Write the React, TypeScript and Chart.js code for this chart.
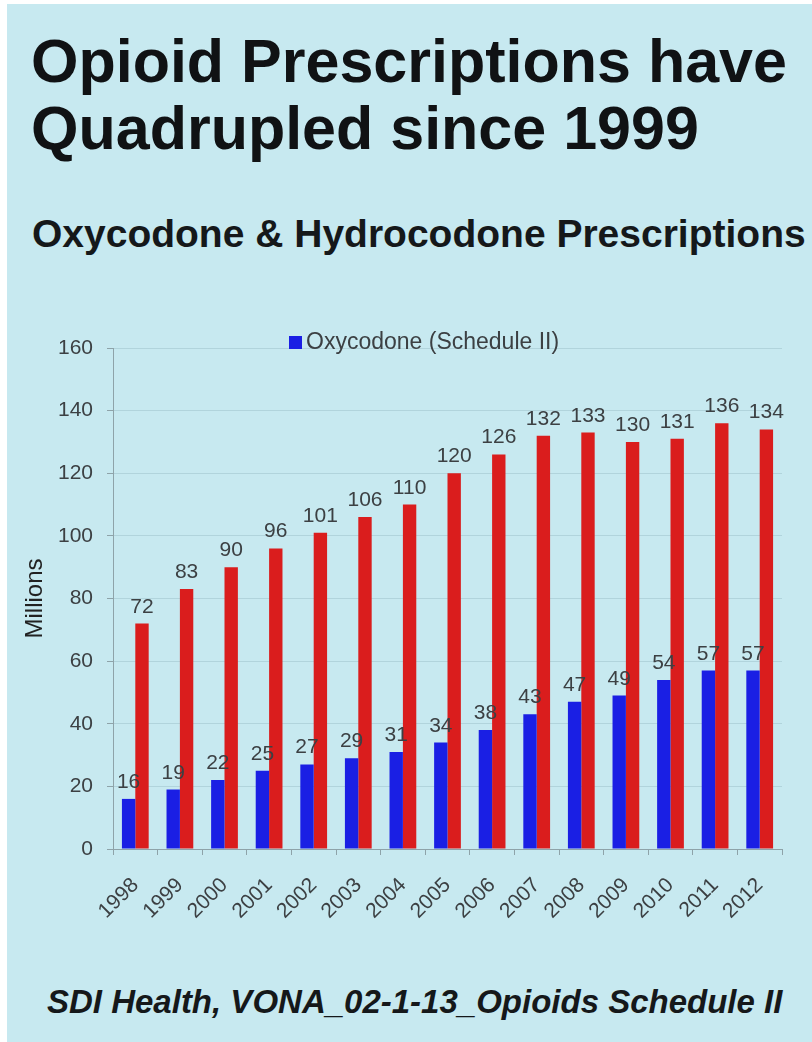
import React, { useEffect, useRef } from "react";
import { Chart, registerables } from "chart.js";

Chart.register(...registerables);

// Prescriptions per year, in millions
const years = [
  "1998", "1999", "2000", "2001", "2002", "2003", "2004", "2005",
  "2006", "2007", "2008", "2009", "2010", "2011", "2012",
];
const oxycodone = [16, 19, 22, 25, 27, 29, 31, 34, 38, 43, 47, 49, 54, 57, 57];
const hydrocodone = [72, 83, 90, 96, 101, 106, 110, 120, 126, 132, 133, 130, 131, 136, 134];

const seriesNames = ["Oxycodone (Schedule II)", "Hydrocodone (Schedule III)"];
const seriesColors = ["#1a1fe4", "#da1d1d"];

const yMin = 0;
const yMax = 160;
const yStep = 20;

const FONT = '"Liberation Sans", Arial, Helvetica, sans-serif';
const BG = "#c7e9f0";
const TEXT = "#3c4043";
const AXIS = "#8ea3a9";

// Numbers printed above every bar
const valueLabels = {
  id: "valueLabels",
  afterDatasetsDraw(chart: any) {
    const { ctx } = chart;
    ctx.save();
    ctx.font = `21px ${FONT}`;
    ctx.fillStyle = TEXT;
    ctx.textAlign = "center";
    ctx.textBaseline = "alphabetic";
    chart.data.datasets.forEach((ds: any, i: number) => {
      const meta = chart.getDatasetMeta(i);
      meta.data.forEach((bar: any, j: number) => {
        ctx.fillText(String(ds.data[j]), bar.x, bar.y - 11);
      });
    });
    ctx.restore();
  },
};

// Legend entry for the first series, sitting on the top grid line
const topLegend = {
  id: "topLegend",
  afterDraw(chart: any) {
    const { ctx } = chart;
    const ds = chart.data.datasets[0];
    ctx.save();
    ctx.fillStyle = ds.backgroundColor;
    ctx.fillRect(289, 36, 13, 13);
    ctx.font = `23px ${FONT}`;
    ctx.fillStyle = TEXT;
    ctx.textAlign = "left";
    ctx.textBaseline = "middle";
    ctx.fillText(ds.label, 306, 43);
    ctx.restore();
  },
};

export default function App() {
  const canvasRef = useRef<HTMLCanvasElement>(null);

  useEffect(() => {
    document.body.style.margin = "0";
    const canvas = canvasRef.current;
    if (!canvas) return;
    const chart = new Chart(canvas, {
      type: "bar",
      data: {
        labels: years,
        datasets: [
          {
            label: seriesNames[0],
            data: oxycodone,
            backgroundColor: seriesColors[0],
            borderWidth: 0,
          },
          {
            label: seriesNames[1],
            data: hydrocodone,
            backgroundColor: seriesColors[1],
            borderWidth: 0,
          },
        ],
      },
      options: {
        animation: false,
        responsive: false,
        devicePixelRatio: 1,
        layout: { padding: { top: 48, right: 30, left: 0, bottom: 0 } },
        datasets: {
          bar: { categoryPercentage: 0.6, barPercentage: 1 },
        },
        plugins: {
          legend: { display: false },
          tooltip: { enabled: false },
          title: { display: false },
        },
        scales: {
          x: {
            offset: true,
            grid: {
              display: true,
              drawOnChartArea: false,
              drawTicks: true,
              tickLength: 6,
              tickColor: AXIS,
              offset: true,
            },
            border: { display: true, color: AXIS, width: 1 },
            ticks: {
              minRotation: 45,
              maxRotation: 45,
              padding: 18,
              color: TEXT,
              font: { family: FONT, size: 21 },
              autoSkip: false,
            },
            afterFit(scale: any) {
              scale.height = 111;
            },
          },
          y: {
            min: yMin,
            max: yMax,
            ticks: {
              stepSize: yStep,
              padding: 14,
              color: TEXT,
              font: { family: FONT, size: 21 },
            },
            grid: {
              color: "rgba(110,150,160,0.25)",
              tickLength: 6,
              tickColor: AXIS,
            },
            border: { display: true, color: AXIS, width: 1 },
            title: {
              display: true,
              text: "Millions",
              color: "#222",
              font: { family: FONT, size: 24 },
              padding: { top: 21, bottom: 0 },
            },
            afterFit(scale: any) {
              scale.width = 113;
            },
          },
        },
      },
      plugins: [valueLabels, topLegend],
    });
    return () => chart.destroy();
  }, []);

  return (
    <div
      style={{
        position: "relative",
        width: 812,
        height: 1042,
        background: "#ffffff",
        overflow: "hidden",
      }}
    >
      <div
        style={{
          position: "absolute",
          left: 7,
          top: 4,
          right: 0,
          bottom: 0,
          background: BG,
        }}
      />
      <div
        style={{
          position: "absolute",
          left: 31,
          top: 28,
          font: `bold 61px/67px ${FONT}`,
          color: "#101214",
          whiteSpace: "nowrap",
        }}
      >
        Opioid Prescriptions have
        <br />
        Quadrupled since 1999
      </div>
      <div
        style={{
          position: "absolute",
          left: 32,
          top: 214,
          font: `bold 39px/39px ${FONT}`,
          color: "#15181a",
          whiteSpace: "nowrap",
        }}
      >
        Oxycodone &amp; Hydrocodone Prescriptions
      </div>
      <canvas
        ref={canvasRef}
        width={812}
        height={660}
        style={{ position: "absolute", left: 0, top: 300, width: 812, height: 660 }}
      />
      <div
        style={{
          position: "absolute",
          left: 47,
          top: 985,
          font: `italic bold 33px/33px ${FONT}`,
          color: "#15181a",
          whiteSpace: "nowrap",
        }}
      >
        SDI Health, VONA_02-1-13_Opioids Schedule II
      </div>
    </div>
  );
}
